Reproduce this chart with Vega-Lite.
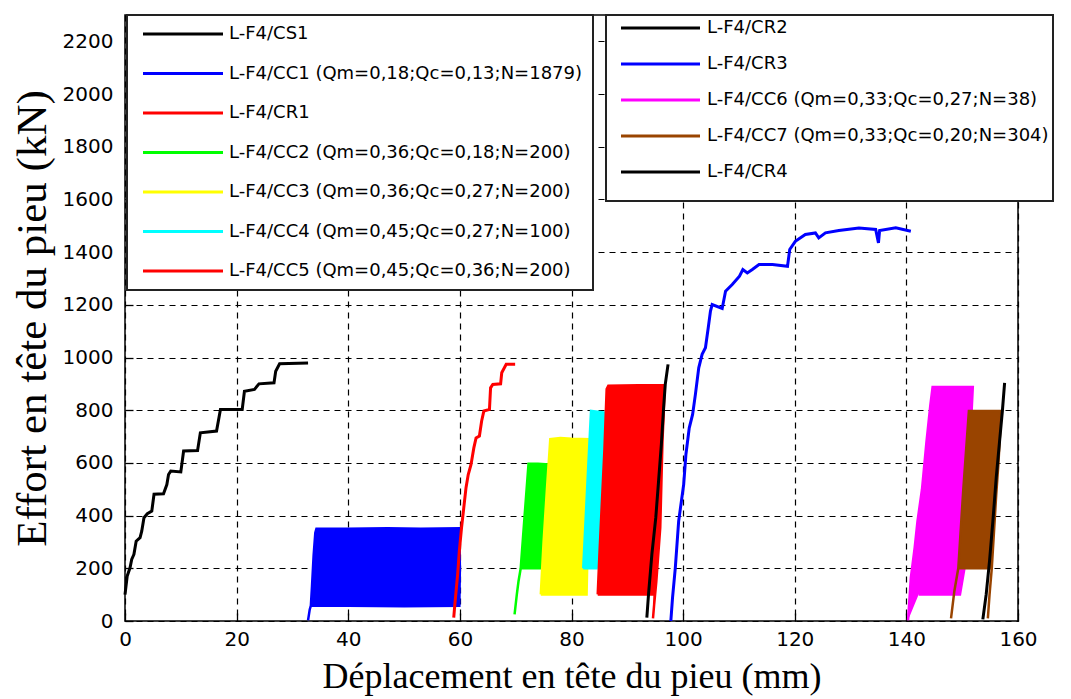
{
  "$schema": "https://vega.github.io/schema/vega-lite/v6.json",
  "width": 893,
  "height": 606,
  "autosize": "none",
  "padding": {"left": 125, "top": 15, "right": 53, "bottom": 78},
  "background": "white",
  "config": {
    "view": {"stroke": "#000", "strokeWidth": 1.5},
    "axis": {
      "grid": true, "gridColor": "#000", "gridDash": [6, 5], "gridWidth": 1.2, "gridOpacity": 1,
      "domain": false, "tickColor": "#000", "tickSize": -8, "tickWidth": 1.3,
      "labelFont": "DejaVu Sans", "labelFontSize": 20, "labelColor": "#000", "labelFlush": false,
      "titleFont": "Liberation Serif", "titleFontSize": 36, "titleFontWeight": "normal", "titleColor": "#000"
    },
    "axisX": {"labelPadding": 16, "titlePadding": 10},
    "axisY": {"labelPadding": 20, "titlePadding": 8, "titleFontSize": 43},
    "legend": {"strokeWidth": 2}
  },
  "datasets": {
    "blocksA": [
      {"s":"L-F4/CC1 (Qm=0,18;Qc=0,13;N=1879)","i":1,"x":32.8,"y":3},
      {"s":"L-F4/CC1 (Qm=0,18;Qc=0,13;N=1879)","i":2,"x":33.1,"y":44},
      {"s":"L-F4/CC1 (Qm=0,18;Qc=0,13;N=1879)","i":3,"x":33.3,"y":58},
      {"s":"L-F4/CC1 (Qm=0,18;Qc=0,13;N=1879)","i":4,"x":33.5,"y":130},
      {"s":"L-F4/CC1 (Qm=0,18;Qc=0,13;N=1879)","i":5,"x":33.8,"y":250},
      {"s":"L-F4/CC1 (Qm=0,18;Qc=0,13;N=1879)","i":6,"x":34.1,"y":335},
      {"s":"L-F4/CC1 (Qm=0,18;Qc=0,13;N=1879)","i":7,"x":34.3,"y":350},
      {"s":"L-F4/CC1 (Qm=0,18;Qc=0,13;N=1879)","i":8,"x":40,"y":350},
      {"s":"L-F4/CC1 (Qm=0,18;Qc=0,13;N=1879)","i":9,"x":47,"y":352},
      {"s":"L-F4/CC1 (Qm=0,18;Qc=0,13;N=1879)","i":10,"x":53,"y":350},
      {"s":"L-F4/CC1 (Qm=0,18;Qc=0,13;N=1879)","i":11,"x":59.9,"y":352},
      {"s":"L-F4/CC1 (Qm=0,18;Qc=0,13;N=1879)","i":12,"x":60.0,"y":200},
      {"s":"L-F4/CC1 (Qm=0,18;Qc=0,13;N=1879)","i":13,"x":59.9,"y":58},
      {"s":"L-F4/CC1 (Qm=0,18;Qc=0,13;N=1879)","i":14,"x":50,"y":56},
      {"s":"L-F4/CC1 (Qm=0,18;Qc=0,13;N=1879)","i":15,"x":40,"y":58},
      {"s":"L-F4/CC1 (Qm=0,18;Qc=0,13;N=1879)","i":16,"x":33.3,"y":58},
      {"s":"L-F4/CC1 (Qm=0,18;Qc=0,13;N=1879)","i":17,"x":33.1,"y":44},
      {"s":"L-F4/CC1 (Qm=0,18;Qc=0,13;N=1879)","i":18,"x":32.8,"y":3},
      {"s":"L-F4/CC2 (Qm=0,36;Qc=0,18;N=200)","i":1,"x":69.8,"y":25},
      {"s":"L-F4/CC2 (Qm=0,36;Qc=0,18;N=200)","i":2,"x":70.2,"y":100},
      {"s":"L-F4/CC2 (Qm=0,36;Qc=0,18;N=200)","i":3,"x":70.5,"y":150},
      {"s":"L-F4/CC2 (Qm=0,36;Qc=0,18;N=200)","i":4,"x":70.9,"y":200},
      {"s":"L-F4/CC2 (Qm=0,36;Qc=0,18;N=200)","i":5,"x":71.6,"y":400},
      {"s":"L-F4/CC2 (Qm=0,36;Qc=0,18;N=200)","i":6,"x":72.3,"y":597},
      {"s":"L-F4/CC2 (Qm=0,36;Qc=0,18;N=200)","i":7,"x":74,"y":597},
      {"s":"L-F4/CC2 (Qm=0,36;Qc=0,18;N=200)","i":8,"x":75.8,"y":594},
      {"s":"L-F4/CC2 (Qm=0,36;Qc=0,18;N=200)","i":9,"x":75.2,"y":400},
      {"s":"L-F4/CC2 (Qm=0,36;Qc=0,18;N=200)","i":10,"x":74.6,"y":200},
      {"s":"L-F4/CC2 (Qm=0,36;Qc=0,18;N=200)","i":11,"x":70.9,"y":200},
      {"s":"L-F4/CC2 (Qm=0,36;Qc=0,18;N=200)","i":12,"x":70.5,"y":150},
      {"s":"L-F4/CC2 (Qm=0,36;Qc=0,18;N=200)","i":13,"x":70.2,"y":100},
      {"s":"L-F4/CC2 (Qm=0,36;Qc=0,18;N=200)","i":14,"x":69.8,"y":25},
      {"s":"L-F4/CC3 (Qm=0,36;Qc=0,27;N=200)","i":1,"x":74.5,"y":101},
      {"s":"L-F4/CC3 (Qm=0,36;Qc=0,27;N=200)","i":2,"x":75.0,"y":300},
      {"s":"L-F4/CC3 (Qm=0,36;Qc=0,27;N=200)","i":3,"x":75.6,"y":500},
      {"s":"L-F4/CC3 (Qm=0,36;Qc=0,27;N=200)","i":4,"x":76.2,"y":690},
      {"s":"L-F4/CC3 (Qm=0,36;Qc=0,27;N=200)","i":5,"x":78,"y":695},
      {"s":"L-F4/CC3 (Qm=0,36;Qc=0,27;N=200)","i":6,"x":80,"y":692},
      {"s":"L-F4/CC3 (Qm=0,36;Qc=0,27;N=200)","i":7,"x":83.3,"y":690},
      {"s":"L-F4/CC3 (Qm=0,36;Qc=0,27;N=200)","i":8,"x":83.0,"y":400},
      {"s":"L-F4/CC3 (Qm=0,36;Qc=0,27;N=200)","i":9,"x":82.7,"y":101},
      {"s":"L-F4/CC3 (Qm=0,36;Qc=0,27;N=200)","i":10,"x":74.5,"y":101},
      {"s":"L-F4/CC4 (Qm=0,45;Qc=0,27;N=100)","i":1,"x":82.1,"y":200},
      {"s":"L-F4/CC4 (Qm=0,45;Qc=0,27;N=100)","i":2,"x":82.8,"y":500},
      {"s":"L-F4/CC4 (Qm=0,45;Qc=0,27;N=100)","i":3,"x":83.5,"y":797},
      {"s":"L-F4/CC4 (Qm=0,45;Qc=0,27;N=100)","i":4,"x":86.3,"y":790},
      {"s":"L-F4/CC4 (Qm=0,45;Qc=0,27;N=100)","i":5,"x":85.5,"y":400},
      {"s":"L-F4/CC4 (Qm=0,45;Qc=0,27;N=100)","i":6,"x":84.5,"y":200},
      {"s":"L-F4/CC4 (Qm=0,45;Qc=0,27;N=100)","i":7,"x":82.1,"y":200},
      {"s":"L-F4/CC5 (Qm=0,45;Qc=0,36;N=200)","i":1,"x":84.7,"y":101},
      {"s":"L-F4/CC5 (Qm=0,45;Qc=0,36;N=200)","i":2,"x":85.0,"y":250},
      {"s":"L-F4/CC5 (Qm=0,45;Qc=0,36;N=200)","i":3,"x":85.4,"y":430},
      {"s":"L-F4/CC5 (Qm=0,45;Qc=0,36;N=200)","i":4,"x":85.9,"y":650},
      {"s":"L-F4/CC5 (Qm=0,45;Qc=0,36;N=200)","i":5,"x":86.3,"y":880},
      {"s":"L-F4/CC5 (Qm=0,45;Qc=0,36;N=200)","i":6,"x":86.6,"y":893},
      {"s":"L-F4/CC5 (Qm=0,45;Qc=0,36;N=200)","i":7,"x":92,"y":895},
      {"s":"L-F4/CC5 (Qm=0,45;Qc=0,36;N=200)","i":8,"x":96.7,"y":895},
      {"s":"L-F4/CC5 (Qm=0,45;Qc=0,36;N=200)","i":9,"x":96.5,"y":780},
      {"s":"L-F4/CC5 (Qm=0,45;Qc=0,36;N=200)","i":10,"x":96.3,"y":683},
      {"s":"L-F4/CC5 (Qm=0,45;Qc=0,36;N=200)","i":11,"x":95.9,"y":354},
      {"s":"L-F4/CC5 (Qm=0,45;Qc=0,36;N=200)","i":12,"x":95.2,"y":150},
      {"s":"L-F4/CC5 (Qm=0,45;Qc=0,36;N=200)","i":13,"x":94.8,"y":60},
      {"s":"L-F4/CC5 (Qm=0,45;Qc=0,36;N=200)","i":14,"x":94.6,"y":10},
      {"s":"L-F4/CC5 (Qm=0,45;Qc=0,36;N=200)","i":15,"x":94.8,"y":60},
      {"s":"L-F4/CC5 (Qm=0,45;Qc=0,36;N=200)","i":16,"x":94.9,"y":101},
      {"s":"L-F4/CC5 (Qm=0,45;Qc=0,36;N=200)","i":17,"x":90,"y":101},
      {"s":"L-F4/CC5 (Qm=0,45;Qc=0,36;N=200)","i":18,"x":84.7,"y":101}
    ],
    "curvesA": [
      {"s":"L-F4/CS1","i":1,"x":0,"y":100},
      {"s":"L-F4/CS1","i":2,"x":0.4,"y":171},
      {"s":"L-F4/CS1","i":3,"x":0.9,"y":202},
      {"s":"L-F4/CS1","i":4,"x":1.2,"y":234},
      {"s":"L-F4/CS1","i":5,"x":1.6,"y":253},
      {"s":"L-F4/CS1","i":6,"x":2.0,"y":303},
      {"s":"L-F4/CS1","i":7,"x":2.7,"y":316},
      {"s":"L-F4/CS1","i":8,"x":3.0,"y":341},
      {"s":"L-F4/CS1","i":9,"x":3.4,"y":392},
      {"s":"L-F4/CS1","i":10,"x":4.0,"y":407},
      {"s":"L-F4/CS1","i":11,"x":4.8,"y":417},
      {"s":"L-F4/CS1","i":12,"x":5.2,"y":481},
      {"s":"L-F4/CS1","i":13,"x":6.9,"y":483},
      {"s":"L-F4/CS1","i":14,"x":7.5,"y":518},
      {"s":"L-F4/CS1","i":15,"x":7.8,"y":556},
      {"s":"L-F4/CS1","i":16,"x":8.2,"y":569},
      {"s":"L-F4/CS1","i":17,"x":10.0,"y":566},
      {"s":"L-F4/CS1","i":18,"x":10.5,"y":645},
      {"s":"L-F4/CS1","i":19,"x":13.0,"y":647},
      {"s":"L-F4/CS1","i":20,"x":13.5,"y":714},
      {"s":"L-F4/CS1","i":21,"x":16.4,"y":721},
      {"s":"L-F4/CS1","i":22,"x":17.1,"y":803},
      {"s":"L-F4/CS1","i":23,"x":21.0,"y":803},
      {"s":"L-F4/CS1","i":24,"x":21.4,"y":872},
      {"s":"L-F4/CS1","i":25,"x":23.2,"y":879},
      {"s":"L-F4/CS1","i":26,"x":24.0,"y":900},
      {"s":"L-F4/CS1","i":27,"x":26.7,"y":904},
      {"s":"L-F4/CS1","i":28,"x":27.0,"y":948},
      {"s":"L-F4/CS1","i":29,"x":27.7,"y":976},
      {"s":"L-F4/CS1","i":30,"x":32.8,"y":979},
      {"s":"L-F4/CR1","i":1,"x":58.9,"y":13},
      {"s":"L-F4/CR1","i":2,"x":59.1,"y":63},
      {"s":"L-F4/CR1","i":3,"x":59.6,"y":177},
      {"s":"L-F4/CR1","i":4,"x":59.9,"y":265},
      {"s":"L-F4/CR1","i":5,"x":60.3,"y":354},
      {"s":"L-F4/CR1","i":6,"x":60.7,"y":430},
      {"s":"L-F4/CR1","i":7,"x":61.1,"y":506},
      {"s":"L-F4/CR1","i":8,"x":61.5,"y":556},
      {"s":"L-F4/CR1","i":9,"x":62.0,"y":594},
      {"s":"L-F4/CR1","i":10,"x":62.5,"y":657},
      {"s":"L-F4/CR1","i":11,"x":62.9,"y":695},
      {"s":"L-F4/CR1","i":12,"x":63.5,"y":702},
      {"s":"L-F4/CR1","i":13,"x":63.9,"y":759},
      {"s":"L-F4/CR1","i":14,"x":64.3,"y":797},
      {"s":"L-F4/CR1","i":15,"x":65.3,"y":803},
      {"s":"L-F4/CR1","i":16,"x":65.5,"y":885},
      {"s":"L-F4/CR1","i":17,"x":65.9,"y":898},
      {"s":"L-F4/CR1","i":18,"x":67.3,"y":900},
      {"s":"L-F4/CR1","i":19,"x":67.5,"y":942},
      {"s":"L-F4/CR1","i":20,"x":68.3,"y":974},
      {"s":"L-F4/CR1","i":21,"x":69.9,"y":974}
    ],
    "blocksB": [
      {"s":"L-F4/CC6 (Qm=0,33;Qc=0,27;N=38)","i":1,"x":140.3,"y":3},
      {"s":"L-F4/CC6 (Qm=0,33;Qc=0,27;N=38)","i":2,"x":140.8,"y":164},
      {"s":"L-F4/CC6 (Qm=0,33;Qc=0,27;N=38)","i":3,"x":141.5,"y":280},
      {"s":"L-F4/CC6 (Qm=0,33;Qc=0,27;N=38)","i":4,"x":142.0,"y":380},
      {"s":"L-F4/CC6 (Qm=0,33;Qc=0,27;N=38)","i":5,"x":142.8,"y":500},
      {"s":"L-F4/CC6 (Qm=0,33;Qc=0,27;N=38)","i":6,"x":143.6,"y":680},
      {"s":"L-F4/CC6 (Qm=0,33;Qc=0,27;N=38)","i":7,"x":144.3,"y":820},
      {"s":"L-F4/CC6 (Qm=0,33;Qc=0,27;N=38)","i":8,"x":144.7,"y":888},
      {"s":"L-F4/CC6 (Qm=0,33;Qc=0,27;N=38)","i":9,"x":148,"y":888},
      {"s":"L-F4/CC6 (Qm=0,33;Qc=0,27;N=38)","i":10,"x":151.9,"y":888},
      {"s":"L-F4/CC6 (Qm=0,33;Qc=0,27;N=38)","i":11,"x":151.7,"y":800},
      {"s":"L-F4/CC6 (Qm=0,33;Qc=0,27;N=38)","i":12,"x":151.0,"y":500},
      {"s":"L-F4/CC6 (Qm=0,33;Qc=0,27;N=38)","i":13,"x":150.4,"y":200},
      {"s":"L-F4/CC6 (Qm=0,33;Qc=0,27;N=38)","i":14,"x":149.6,"y":101},
      {"s":"L-F4/CC6 (Qm=0,33;Qc=0,27;N=38)","i":15,"x":142.2,"y":101},
      {"s":"L-F4/CC7 (Qm=0,33;Qc=0,20;N=304)","i":1,"x":148.0,"y":10},
      {"s":"L-F4/CC7 (Qm=0,33;Qc=0,20;N=304)","i":2,"x":148.6,"y":114},
      {"s":"L-F4/CC7 (Qm=0,33;Qc=0,20;N=304)","i":3,"x":149.3,"y":200},
      {"s":"L-F4/CC7 (Qm=0,33;Qc=0,20;N=304)","i":4,"x":150.2,"y":500},
      {"s":"L-F4/CC7 (Qm=0,33;Qc=0,20;N=304)","i":5,"x":151.2,"y":797},
      {"s":"L-F4/CC7 (Qm=0,33;Qc=0,20;N=304)","i":6,"x":154,"y":797},
      {"s":"L-F4/CC7 (Qm=0,33;Qc=0,20;N=304)","i":7,"x":157.0,"y":797},
      {"s":"L-F4/CC7 (Qm=0,33;Qc=0,20;N=304)","i":8,"x":156.5,"y":600},
      {"s":"L-F4/CC7 (Qm=0,33;Qc=0,20;N=304)","i":9,"x":156.1,"y":480},
      {"s":"L-F4/CC7 (Qm=0,33;Qc=0,20;N=304)","i":10,"x":155.3,"y":200},
      {"s":"L-F4/CC7 (Qm=0,33;Qc=0,20;N=304)","i":11,"x":154.9,"y":100},
      {"s":"L-F4/CC7 (Qm=0,33;Qc=0,20;N=304)","i":12,"x":154.6,"y":10},
      {"s":"L-F4/CC7 (Qm=0,33;Qc=0,20;N=304)","i":13,"x":154.9,"y":100},
      {"s":"L-F4/CC7 (Qm=0,33;Qc=0,20;N=304)","i":14,"x":155.3,"y":200},
      {"s":"L-F4/CC7 (Qm=0,33;Qc=0,20;N=304)","i":15,"x":149.3,"y":200},
      {"s":"L-F4/CC7 (Qm=0,33;Qc=0,20;N=304)","i":16,"x":148.6,"y":114},
      {"s":"L-F4/CC7 (Qm=0,33;Qc=0,20;N=304)","i":17,"x":148.0,"y":10}
    ],
    "curvesB": [
      {"s":"L-F4/CR2","i":1,"x":93.5,"y":13},
      {"s":"L-F4/CR2","i":2,"x":93.8,"y":101},
      {"s":"L-F4/CR2","i":3,"x":94.4,"y":253},
      {"s":"L-F4/CR2","i":4,"x":95.1,"y":392},
      {"s":"L-F4/CR2","i":5,"x":95.6,"y":531},
      {"s":"L-F4/CR2","i":6,"x":96.1,"y":670},
      {"s":"L-F4/CR2","i":7,"x":96.5,"y":809},
      {"s":"L-F4/CR2","i":8,"x":96.8,"y":898},
      {"s":"L-F4/CR2","i":9,"x":97.3,"y":974},
      {"s":"L-F4/CR3","i":1,"x":97.8,"y":0},
      {"s":"L-F4/CR3","i":2,"x":98.1,"y":88},
      {"s":"L-F4/CR3","i":3,"x":98.6,"y":202},
      {"s":"L-F4/CR3","i":4,"x":99.2,"y":379},
      {"s":"L-F4/CR3","i":5,"x":100.1,"y":518},
      {"s":"L-F4/CR3","i":6,"x":100.5,"y":632},
      {"s":"L-F4/CR3","i":7,"x":101.1,"y":733},
      {"s":"L-F4/CR3","i":8,"x":101.7,"y":784},
      {"s":"L-F4/CR3","i":9,"x":102.2,"y":860},
      {"s":"L-F4/CR3","i":10,"x":102.8,"y":961},
      {"s":"L-F4/CR3","i":11,"x":103.4,"y":1012},
      {"s":"L-F4/CR3","i":12,"x":104.0,"y":1037},
      {"s":"L-F4/CR3","i":13,"x":104.5,"y":1113},
      {"s":"L-F4/CR3","i":14,"x":104.9,"y":1176},
      {"s":"L-F4/CR3","i":15,"x":105.2,"y":1201},
      {"s":"L-F4/CR3","i":16,"x":107.0,"y":1186},
      {"s":"L-F4/CR3","i":17,"x":107.6,"y":1252},
      {"s":"L-F4/CR3","i":18,"x":108.8,"y":1277},
      {"s":"L-F4/CR3","i":19,"x":110.1,"y":1309},
      {"s":"L-F4/CR3","i":20,"x":110.7,"y":1334},
      {"s":"L-F4/CR3","i":21,"x":111.5,"y":1321},
      {"s":"L-F4/CR3","i":22,"x":112.4,"y":1334},
      {"s":"L-F4/CR3","i":23,"x":113.6,"y":1353},
      {"s":"L-F4/CR3","i":24,"x":116.0,"y":1353},
      {"s":"L-F4/CR3","i":25,"x":118.7,"y":1346},
      {"s":"L-F4/CR3","i":26,"x":119.1,"y":1410},
      {"s":"L-F4/CR3","i":27,"x":120.1,"y":1441},
      {"s":"L-F4/CR3","i":28,"x":121.9,"y":1467},
      {"s":"L-F4/CR3","i":29,"x":123.7,"y":1473},
      {"s":"L-F4/CR3","i":30,"x":124.3,"y":1454},
      {"s":"L-F4/CR3","i":31,"x":125.5,"y":1473},
      {"s":"L-F4/CR3","i":32,"x":127.9,"y":1482},
      {"s":"L-F4/CR3","i":33,"x":131.5,"y":1492},
      {"s":"L-F4/CR3","i":34,"x":134.5,"y":1486},
      {"s":"L-F4/CR3","i":35,"x":135.0,"y":1435},
      {"s":"L-F4/CR3","i":36,"x":135.2,"y":1482},
      {"s":"L-F4/CR3","i":37,"x":138.1,"y":1492},
      {"s":"L-F4/CR3","i":38,"x":140.8,"y":1479},
      {"s":"L-F4/CR4","i":1,"x":153.7,"y":6},
      {"s":"L-F4/CR4","i":2,"x":154.3,"y":101},
      {"s":"L-F4/CR4","i":3,"x":154.9,"y":228},
      {"s":"L-F4/CR4","i":4,"x":155.5,"y":379},
      {"s":"L-F4/CR4","i":5,"x":156.1,"y":544},
      {"s":"L-F4/CR4","i":6,"x":156.7,"y":683},
      {"s":"L-F4/CR4","i":7,"x":157.2,"y":797},
      {"s":"L-F4/CR4","i":8,"x":157.6,"y":904}
    ]
  },
  "encoding": {
    "x": {"field": "x", "type": "quantitative", "scale": {"domain": [0, 160], "nice": false},
      "axis": {"values": [0, 20, 40, 60, 80, 100, 120, 140, 160], "format": "d", "title": "Déplacement en tête du pieu (mm)"}},
    "y": {"field": "y", "type": "quantitative", "scale": {"domain": [0, 2300], "nice": false},
      "axis": {"values": [0, 200, 400, 600, 800, 1000, 1200, 1400, 1600, 1800, 2000, 2200], "format": "d", "title": "Effort en tête du pieu (kN)"}},
    "order": {"field": "i", "type": "quantitative"}
  },
  "layer": [
    {
      "layer": [
        {
          "data": {"name": "blocksA"},
          "mark": {"type": "line", "strokeWidth": 2.5},
          "encoding": {
            "color": {"field": "s", "type": "nominal",
              "scale": {"domain": ["L-F4/CS1", "L-F4/CC1 (Qm=0,18;Qc=0,13;N=1879)", "L-F4/CR1", "L-F4/CC2 (Qm=0,36;Qc=0,18;N=200)", "L-F4/CC3 (Qm=0,36;Qc=0,27;N=200)", "L-F4/CC4 (Qm=0,45;Qc=0,27;N=100)", "L-F4/CC5 (Qm=0,45;Qc=0,36;N=200)"],
                        "range": ["#000000", "#0000ff", "#ff0000", "#00ff00", "#ffff00", "#00ffff", "#ff0000"]},
              "legend": {"orient": "none", "legendX": 2, "legendY": 0, "title": null, "padding": 10, "rowPadding": 21.5,
                "symbolType": "M-3,0H77", "symbolSize": 4, "symbolStrokeWidth": 3, "labelOffset": 74,
                "labelFont": "DejaVu Sans", "labelFontSize": 18, "labelColor": "#000", "labelLimit": 700,
                "strokeColor": "#222", "fillColor": "#ffffff"}},
            "fill": {"field": "s", "type": "nominal",
              "scale": {"domain": ["L-F4/CC1 (Qm=0,18;Qc=0,13;N=1879)", "L-F4/CC2 (Qm=0,36;Qc=0,18;N=200)", "L-F4/CC3 (Qm=0,36;Qc=0,27;N=200)", "L-F4/CC4 (Qm=0,45;Qc=0,27;N=100)", "L-F4/CC5 (Qm=0,45;Qc=0,36;N=200)", "L-F4/CC6 (Qm=0,33;Qc=0,27;N=38)", "L-F4/CC7 (Qm=0,33;Qc=0,20;N=304)"],
                        "range": ["#0000ff", "#00ff00", "#ffff00", "#00ffff", "#ff0000", "#ff00ff", "#994400"]},
              "legend": null}
          }
        },
        {
          "data": {"name": "curvesA"},
          "mark": {"type": "line", "strokeWidth": 3},
          "encoding": {
            "color": {"field": "s", "type": "nominal",
              "scale": {"domain": ["L-F4/CS1", "L-F4/CC1 (Qm=0,18;Qc=0,13;N=1879)", "L-F4/CR1", "L-F4/CC2 (Qm=0,36;Qc=0,18;N=200)", "L-F4/CC3 (Qm=0,36;Qc=0,27;N=200)", "L-F4/CC4 (Qm=0,45;Qc=0,27;N=100)", "L-F4/CC5 (Qm=0,45;Qc=0,36;N=200)"],
                        "range": ["#000000", "#0000ff", "#ff0000", "#00ff00", "#ffff00", "#00ffff", "#ff0000"]},
              "legend": {"orient": "none", "legendX": 2, "legendY": 0, "title": null, "padding": 10, "rowPadding": 21.5,
                "symbolType": "M-3,0H77", "symbolSize": 4, "symbolStrokeWidth": 3, "labelOffset": 74,
                "labelFont": "DejaVu Sans", "labelFontSize": 18, "labelColor": "#000", "labelLimit": 700,
                "strokeColor": "#222", "fillColor": "#ffffff"}}
          }
        }
      ]
    },
    {
      "layer": [
        {
          "data": {"name": "blocksB"},
          "mark": {"type": "line", "strokeWidth": 2.5},
          "encoding": {
            "color": {"field": "s", "type": "nominal",
              "scale": {"domain": ["L-F4/CR2", "L-F4/CR3", "L-F4/CC6 (Qm=0,33;Qc=0,27;N=38)", "L-F4/CC7 (Qm=0,33;Qc=0,20;N=304)", "L-F4/CR4"],
                        "range": ["#000000", "#0000ff", "#ff00ff", "#994400", "#000000"]},
              "legend": {"orient": "none", "legendX": 481, "legendY": 0, "title": " ", "titleOrient": "bottom", "titleFontSize": 10, "titlePadding": 6,
                "padding": 4, "rowPadding": 18,
                "symbolType": "M2,0H81", "symbolSize": 4, "symbolStrokeWidth": 3, "labelOffset": 79,
                "labelFont": "DejaVu Sans", "labelFontSize": 18, "labelColor": "#000", "labelLimit": 700,
                "strokeColor": "#222", "fillColor": "#ffffff"}},
            "fill": {"field": "s", "type": "nominal",
              "scale": {"domain": ["L-F4/CC1 (Qm=0,18;Qc=0,13;N=1879)", "L-F4/CC2 (Qm=0,36;Qc=0,18;N=200)", "L-F4/CC3 (Qm=0,36;Qc=0,27;N=200)", "L-F4/CC4 (Qm=0,45;Qc=0,27;N=100)", "L-F4/CC5 (Qm=0,45;Qc=0,36;N=200)", "L-F4/CC6 (Qm=0,33;Qc=0,27;N=38)", "L-F4/CC7 (Qm=0,33;Qc=0,20;N=304)"],
                        "range": ["#0000ff", "#00ff00", "#ffff00", "#00ffff", "#ff0000", "#ff00ff", "#994400"]},
              "legend": null}
          }
        },
        {
          "data": {"name": "curvesB"},
          "mark": {"type": "line", "strokeWidth": 3},
          "encoding": {
            "color": {"field": "s", "type": "nominal",
              "scale": {"domain": ["L-F4/CR2", "L-F4/CR3", "L-F4/CC6 (Qm=0,33;Qc=0,27;N=38)", "L-F4/CC7 (Qm=0,33;Qc=0,20;N=304)", "L-F4/CR4"],
                        "range": ["#000000", "#0000ff", "#ff00ff", "#994400", "#000000"]},
              "legend": {"orient": "none", "legendX": 481, "legendY": 0, "title": " ", "titleOrient": "bottom", "titleFontSize": 10, "titlePadding": 6,
                "padding": 4, "rowPadding": 18,
                "symbolType": "M2,0H81", "symbolSize": 4, "symbolStrokeWidth": 3, "labelOffset": 79,
                "labelFont": "DejaVu Sans", "labelFontSize": 18, "labelColor": "#000", "labelLimit": 700,
                "strokeColor": "#222", "fillColor": "#ffffff"}}
          }
        }
      ]
    }
  ],
  "resolve": {"scale": {"color": "independent"}}
}
